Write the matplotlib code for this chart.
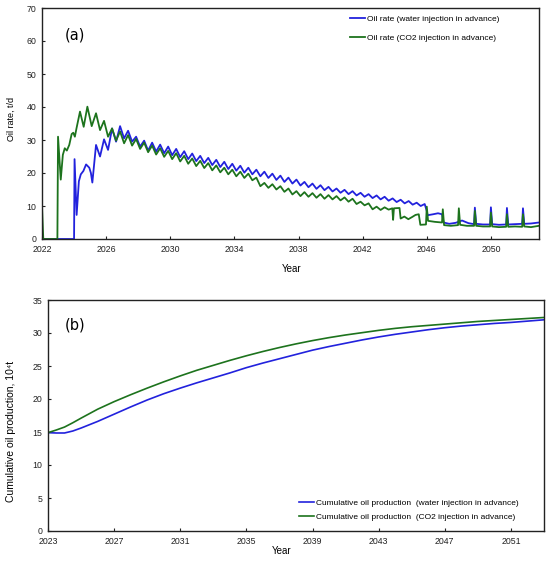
import numpy as np
import matplotlib
matplotlib.use("Agg")
import matplotlib.pyplot as plt

plt.rcParams['font.family'] = ['Liberation Sans', 'DejaVu Sans']

# ---- panel (a): oil rate, t/d ----
# water injection in advance: start-up part, then quarterly samples (trough/peak), then tail
water_start_t = [2022.0, 2024.0, 2024.03, 2024.16, 2024.3, 2024.42, 2024.58, 2024.75,
                 2024.95, 2025.05, 2025.14]
water_start_v = [0, 0, 24.2, 7.3, 17.5, 19.6, 20.6, 22.6, 21.6, 20.0, 17.1]
water_mid_t0 = 2025.37
water_mid_v = [28.5, 25.0, 30.2,
               27.0, 33.5, 29.5, 34.2,
               30.5, 32.8, 29.5, 31.0,
               28.0, 29.8, 26.8, 29.2,
               26.5, 28.6, 26.0, 28.0,
               25.4, 27.3, 24.8, 26.6,
               24.2, 25.9, 23.6, 25.2,
               23.0, 24.6, 22.4, 24.0,
               21.8, 23.4, 21.2, 22.8,
               20.7, 22.2, 20.1, 21.6,
               19.6, 21.0, 19.0, 20.4,
               18.5, 19.8, 17.9, 19.2,
               17.3, 18.6, 16.8, 18.0,
               16.2, 17.3, 15.7, 16.8,
               15.2, 16.3, 14.8, 15.8,
               14.4, 15.3, 14.0, 14.9,
               13.6, 14.5, 13.2, 14.0,
               12.8, 13.6, 12.4, 13.2,
               12.0, 12.8, 11.6, 12.3,
               11.2, 11.9, 10.8, 11.5,
               10.4, 11.0, 10.0, 10.6]
water_end_t = [2046.0, 2046.05, 2046.4, 2046.7, 2046.95, 2047.05, 2047.4, 2047.8, 2048.2,
               2048.6, 2048.95, 2049.0, 2049.08, 2049.5, 2049.95, 2050.0, 2050.08, 2050.5,
               2050.95, 2051.0, 2051.08, 2051.5, 2051.95, 2052.0, 2052.08, 2052.5, 2053.0]
water_end_v = [8.5, 7.2, 7.5, 7.8, 7.5, 5.0, 4.6, 4.9, 5.6,
               4.8, 4.5, 9.5, 4.6, 4.4, 4.4, 9.6, 4.5, 4.3,
               4.4, 9.4, 4.4, 4.5, 4.6, 9.3, 4.6, 4.7, 5.0]

# CO2 injection in advance
co2_start_t = [2022.0, 2022.08, 2022.96, 2023.0, 2023.17, 2023.3, 2023.42, 2023.55, 2023.7,
               2023.85, 2023.95, 2024.05, 2024.15, 2024.37, 2024.6, 2024.83, 2025.1]
co2_start_v = [10.0, 0, 0, 31.0, 18.0, 25.5, 27.5, 26.8, 28.5,
               31.8, 32.2, 31.0, 33.5, 38.6, 34.0, 40.1, 34.2]
co2_mid_t0 = 2025.37
co2_mid_v = [38.1, 33.0, 35.8,
             31.0, 33.5, 29.8, 32.6,
             29.0, 31.5, 28.3, 30.3,
             27.3, 29.2, 26.3, 28.3,
             25.6, 27.5, 24.9, 26.7,
             24.2, 26.0, 23.5, 25.2,
             22.8, 24.4, 22.1, 23.7,
             21.5, 23.0, 20.8, 22.3,
             20.2, 21.6, 19.6, 21.0,
             19.0, 20.4, 18.5, 19.8,
             17.8, 18.6, 16.0, 17.0,
             15.5, 16.6, 15.0, 16.0,
             14.3, 15.3, 13.5, 14.5,
             13.0, 14.2, 12.8, 13.9,
             12.5, 13.6, 12.2, 13.3,
             12.0, 13.0, 11.7, 12.6,
             11.3, 12.2, 10.6, 11.3,
             10.2, 10.8, 9.0, 9.8,
             8.8, 9.6, 8.9]
co2_end_t = [2043.85, 2043.9, 2043.95, 2044.3, 2044.37, 2044.6, 2044.85, 2045.1, 2045.3,
             2045.5, 2045.6, 2045.95, 2046.0, 2046.08, 2046.5, 2046.95, 2047.0, 2047.08,
             2047.5, 2047.95, 2048.0, 2048.08, 2048.5, 2048.95, 2049.0, 2049.08, 2049.5,
             2049.95, 2050.0, 2050.08, 2050.5, 2050.95, 2051.0, 2051.08, 2051.5, 2051.95,
             2052.0, 2052.08, 2052.5, 2053.0]
co2_end_v = [9.3, 5.8, 9.3, 9.4, 6.2, 6.8, 6.0, 6.7, 7.3,
             7.5, 4.3, 4.4, 9.8, 5.5, 5.2, 5.0, 9.0, 4.2,
             4.0, 4.2, 9.3, 4.3, 4.0, 4.0, 8.5, 4.0, 3.8,
             3.8, 8.0, 3.8, 3.6, 3.7, 7.5, 3.7, 3.8, 3.7,
             7.5, 3.8, 3.6, 4.0]

# ---- panel (b): cumulative oil production, 10^4 t ----
cum_years = [2023, 2023.5, 2024, 2024.5, 2025, 2026, 2027, 2028, 2029, 2030, 2031, 2032,
             2033, 2034, 2035, 2036, 2037, 2038, 2039, 2040, 2041, 2042, 2043, 2044,
             2045, 2046, 2047, 2048, 2049, 2050, 2051, 2052, 2053]
cum_water = [14.9, 14.85, 14.85, 15.15, 15.6, 16.6, 17.7, 18.8, 19.85, 20.8, 21.65, 22.45,
             23.2, 23.95, 24.75, 25.45, 26.1, 26.75, 27.4, 27.95, 28.45, 28.95, 29.4, 29.8,
             30.15, 30.5, 30.8, 31.05, 31.25, 31.45, 31.6, 31.8, 32.0]
cum_co2 = [14.9, 15.3, 15.75, 16.4, 17.1, 18.45, 19.6, 20.65, 21.65, 22.6, 23.5, 24.35,
           25.1, 25.85, 26.55, 27.2, 27.8, 28.35, 28.85, 29.3, 29.7, 30.05, 30.4, 30.7,
           30.95, 31.15, 31.35, 31.55, 31.75, 31.9, 32.05, 32.2, 32.35]

BLUE = '#2222dd'
GREEN = '#1d731d'


def series(start_t, start_v, t0, mid_v, end_t, end_v):
    mid_t = t0 + 0.25 * np.arange(len(mid_v))
    t = np.concatenate([start_t, mid_t, end_t])
    v = np.concatenate([start_v, mid_v, end_v])
    return t, v


def style_axes(ax):
    for s in ax.spines.values():
        s.set_linewidth(1.0)
        s.set_color('#222222')
    ax.tick_params(direction='in', length=2.5, width=0.8, labelsize=6.3,
                   colors='#222222', pad=4)


fig = plt.figure(figsize=(5.5, 5.62), dpi=100)

# (a)
ax1 = fig.add_axes([42 / 550, 1 - 239 / 562, 497 / 550, 231 / 562])
t_w, v_w = series(water_start_t, water_start_v, water_mid_t0, water_mid_v,
                  water_end_t, water_end_v)
t_c, v_c = series(co2_start_t, co2_start_v, co2_mid_t0, co2_mid_v,
                  co2_end_t, co2_end_v)
ax1.plot(t_w, v_w, color=BLUE, lw=1.3, label='Oil rate (water injection in advance)')
ax1.plot(t_c, v_c, color=GREEN, lw=1.3, label='Oil rate (CO2 injection in advance)')
ax1.set_xlim(2022, 2053)
ax1.set_ylim(0, 70)
ax1.set_xticks(np.arange(2022, 2051, 4))
ax1.set_yticks(np.arange(0, 71, 10))
style_axes(ax1)
ax1.set_xlabel('Year', fontsize=7)
ax1.xaxis.set_label_coords(0.503, -0.11)
ax1.set_ylabel('Oil rate, t/d', fontsize=6.5)
ax1.yaxis.set_label_coords(-0.052, 0.52)
ax1.text(0.046, 0.885, '(a)', transform=ax1.transAxes, fontsize=10.5,
         family='DejaVu Sans', va='center', ha='left')
ax1.legend(loc='upper right', bbox_to_anchor=(0.92, 0.968), frameon=False, fontsize=6,
           borderpad=0, borderaxespad=0, handlelength=1.8, handletextpad=0.2,
           labelspacing=1.3)

# (b)
ax2 = fig.add_axes([48 / 550, 1 - 531 / 562, 496 / 550, 231 / 562])
ax2.plot(cum_years, cum_water, color=BLUE, lw=1.2,
         label='Cumulative oil production  (water injection in advance)')
ax2.plot(cum_years, cum_co2, color=GREEN, lw=1.2,
         label='Cumulative oil production  (CO2 injection in advance)')
ax2.set_xlim(2023, 2053)
ax2.set_ylim(0, 35)
ax2.set_xticks(np.arange(2023, 2052, 4))
ax2.set_yticks(np.arange(0, 36, 5))
style_axes(ax2)
ax2.set_xlabel('Year', fontsize=7)
ax2.xaxis.set_label_coords(0.472, -0.065)
ax2.set_ylabel('Cumulative oil production, 10⁴t', fontsize=7.5)
ax2.yaxis.set_label_coords(-0.065, 0.43)
ax2.text(0.034, 0.892, '(b)', transform=ax2.transAxes, fontsize=10.5,
         family='DejaVu Sans', va='center', ha='left')
ax2.legend(loc='upper right', bbox_to_anchor=(0.948, 0.137), frameon=False, fontsize=6,
           borderpad=0, borderaxespad=0, handlelength=1.8, handletextpad=0.2,
           labelspacing=0.7)

fig.savefig('out.png', dpi=100)
